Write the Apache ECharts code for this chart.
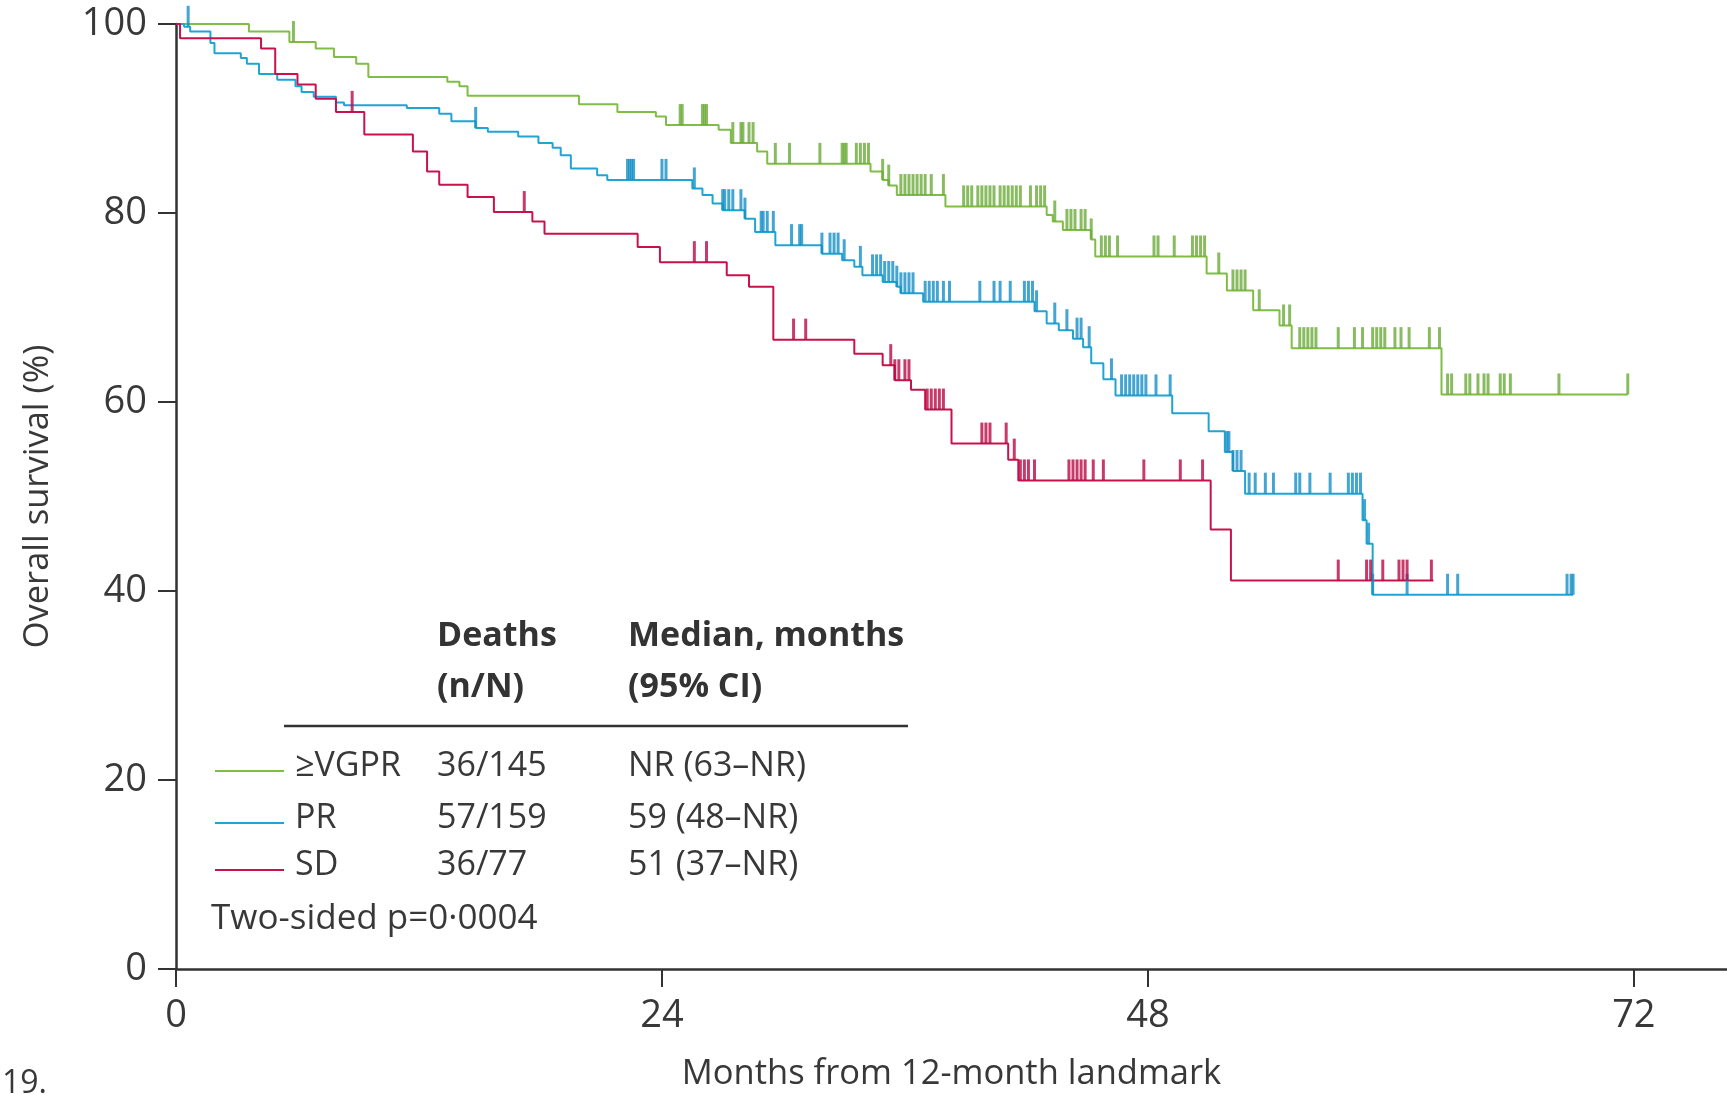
<!DOCTYPE html>
<html>
<head>
<meta charset="utf-8">
<script src="https://cdn.jsdelivr.net/npm/echarts@6/dist/echarts.min.js"></script>
<style>
  html, body { margin: 0; padding: 0; background: #ffffff; }
  #chart { width: 1727px; height: 1094px; }
</style>
</head>
<body>
<div id="chart"></div>
<script>
// Groups and summary table
const groups = ['≥VGPR', 'PR', 'SD'];
const deaths = ['36/145', '57/159', '36/77'];
const medians = ['NR (63–NR)', '59 (48–NR)', '51 (37–NR)'];
const pValueText = 'Two-sided p=0·0004';
const xTicks = [0, 24, 48, 72];

// Kaplan–Meier steps: [month, survival % after the drop]
const vgprSteps = [
  [0, 100], [3.6, 99.2], [5.6, 98.1], [6.9, 97.4], [7.8, 96.5], [8.9, 95.8], [9.5, 94.4],
  [13.4, 93.9], [14.0, 93.4], [14.4, 92.4], [19.9, 91.5], [21.8, 90.7], [23.7, 90.2],
  [24.2, 89.3], [26.8, 88.8], [27.4, 87.4], [28.7, 86.5], [29.2, 85.2], [34.3, 84.4],
  [34.9, 83.5], [35.2, 82.9], [35.6, 81.9], [38.0, 80.7], [43.0, 79.8], [43.3, 79.1],
  [43.8, 78.2], [45.2, 77.2], [45.4, 75.4], [50.9, 73.6], [51.9, 71.8], [53.2, 69.7],
  [54.5, 68.1], [55.1, 65.7], [62.5, 60.8], [71.7, 60.8]
];
const prSteps = [
  [0, 100], [0.4, 99.7], [0.7, 99.2], [1.7, 98.0], [1.9, 96.9], [3.2, 96.4], [3.5, 95.8],
  [4.1, 94.7], [5.0, 94.1], [5.9, 93.4], [6.2, 92.8], [6.8, 92.3], [7.9, 91.7], [8.3, 91.4],
  [11.4, 91.1], [13.0, 90.5], [13.6, 89.7], [14.8, 89.0], [15.4, 88.6], [16.9, 88.1],
  [17.9, 87.4], [18.6, 86.9], [19.0, 86.1], [19.5, 84.7], [20.8, 84.0], [21.3, 83.5],
  [25.5, 82.6], [26.0, 81.9], [26.5, 81.0], [27.0, 80.3], [28.1, 79.4], [28.6, 78.0],
  [29.6, 76.6], [31.9, 75.7], [32.9, 75.0], [33.5, 74.3], [33.9, 73.4], [34.9, 72.7],
  [35.6, 72.2], [35.8, 71.5], [36.9, 70.6], [42.4, 69.6], [43.0, 68.3], [43.6, 67.6],
  [44.3, 66.7], [44.8, 65.8], [45.2, 64.1], [45.8, 62.4], [46.4, 60.7], [49.2, 58.8],
  [51.0, 56.9], [51.8, 54.7], [52.2, 52.7], [52.8, 50.3], [58.6, 47.5], [58.8, 45.0],
  [59.1, 39.6], [69.0, 39.6]
];
const sdSteps = [
  [0, 100], [0.2, 98.5], [4.2, 97.4], [4.9, 94.7], [6.0, 93.6], [6.9, 92.1], [7.9, 90.7],
  [9.3, 88.3], [11.7, 86.5], [12.4, 84.4], [13.0, 83.0], [14.4, 81.7], [15.7, 80.1],
  [17.6, 79.1], [18.2, 77.8], [22.8, 76.4], [23.9, 74.8], [27.2, 73.4], [28.3, 72.2],
  [29.5, 66.6], [33.5, 65.1], [34.9, 63.9], [35.5, 62.3], [36.3, 61.3], [37.0, 59.2],
  [38.3, 55.6], [41.1, 53.9], [41.6, 51.7], [51.1, 46.5], [52.1, 41.1], [62.1, 41.1]
];

// Censoring times (months)
const vgprCensored = [
  5.8, 24.9, 25.0, 26.0, 26.1, 26.2, 27.5, 27.9, 28.0, 28.3, 28.5, 29.6, 30.3, 31.8, 32.9,
  33.0, 33.1, 33.6, 33.8, 34.0, 34.2, 34.9, 35.2, 35.8, 36.0, 36.2, 36.4, 36.6, 36.8, 37.0,
  37.3, 37.9, 38.9, 39.1, 39.3, 39.6, 39.8, 40.0, 40.2, 40.4, 40.7, 40.9, 41.1, 41.3, 41.5,
  41.7, 42.2, 42.5, 42.7, 42.9, 43.4, 44.0, 44.2, 44.4, 44.7, 44.9, 45.2, 45.7, 45.9, 46.1,
  46.5, 48.3, 48.5, 49.3, 50.2, 50.4, 50.6, 50.8, 51.5, 52.2, 52.4, 52.6, 52.8, 53.5, 54.7,
  55.0, 55.5, 55.7, 55.9, 56.1, 56.3, 57.4, 58.2, 58.6, 59.1, 59.3, 59.5, 59.7, 60.2, 60.5,
  60.9, 61.9, 62.4, 62.8, 63.0, 63.7, 63.9, 64.3, 64.6, 64.8, 65.4, 65.6, 65.9, 68.3, 71.7
];
const prCensored = [
  0.6, 14.8, 22.3, 22.4, 22.5, 22.6, 24.0, 24.2, 25.6, 27.0, 27.1, 27.3, 27.5, 27.9, 28.1,
  28.9, 29.0, 29.2, 29.5, 30.4, 30.8, 30.9, 31.9, 32.3, 32.5, 32.7, 33.0, 33.8, 34.4, 34.6,
  34.8, 35.0, 35.2, 35.4, 35.6, 35.8, 36.0, 36.2, 36.4, 37.0, 37.2, 37.4, 37.6, 37.9, 38.2,
  39.7, 40.4, 40.7, 41.2, 41.9, 42.1, 42.3, 42.5, 43.4, 44.0, 44.5, 44.7, 45.1, 46.2, 46.7,
  46.9, 47.1, 47.3, 47.5, 47.7, 47.9, 48.4, 49.1, 51.9, 52.0, 52.2, 52.4, 52.6, 53.0, 53.3,
  53.8, 54.2, 55.3, 55.5, 56.0, 57.0, 57.9, 58.1, 58.3, 58.5, 58.7, 58.9, 59.1, 60.8, 62.8,
  63.3, 68.7, 68.9, 69.0
];
const sdCensored = [
  8.7, 17.2, 25.6, 26.2, 30.5, 31.1, 35.3, 35.5, 35.7, 36.0, 36.2, 37.1, 37.3, 37.5, 37.7,
  37.9, 39.8, 40.0, 40.2, 41.0, 41.4, 41.7, 41.9, 42.1, 42.4, 44.1, 44.3, 44.5, 44.7, 44.9,
  45.3, 45.8, 47.8, 49.6, 50.7, 57.4, 58.8, 59.0, 59.6, 60.4, 60.6, 60.8, 62.0
];

const colors = ['#80bd45', '#1fa5d4', '#c8124c'];
const tickColors = ['#6cab3a', '#1590c4', '#b80a45'];
const stepSets = [vgprSteps, prSteps, sdSteps];
const censorSets = [vgprCensored, prCensored, sdCensored];

// Survival level of a step curve at a given time
function survivalAt(steps, t) {
  let v = steps[0][1];
  for (const [s, val] of steps) {
    if (s <= t) v = val; else break;
  }
  return v;
}

const FONT = '"Open Sans", "Noto Sans", sans-serif';
const TEXT = '#383838';
const AXIS = '#333333';

const series = [];
groups.forEach((g, i) => {
  series.push({
    name: g,
    type: 'line',
    step: 'end',
    symbol: 'none',
    data: stepSets[i],
    lineStyle: { color: colors[i], width: 2 },
    z: 3
  });
  series.push({
    name: g + ' censored',
    type: 'scatter',
    symbol: 'rect',
    symbolSize: [3, 21],
    symbolOffset: [0, '-50%'],
    data: censorSets[i].map(t => [t, survivalAt(stepSets[i], t)]),
    itemStyle: { color: tickColors[i] },
    z: 4
  });
});

// Summary table drawn beside the curves
const colDeaths = 437, colMedian = 628, colLabel = 295;
const rowY = [771, 823, 870];
const graphic = [
  { type: 'text', left: colDeaths, top: 619, style: { text: 'Deaths', font: 'bold 34px ' + FONT, fill: '#333' } },
  { type: 'text', left: colDeaths, top: 670, style: { text: '(n/N)', font: 'bold 34px ' + FONT, fill: '#333' } },
  { type: 'text', left: colMedian, top: 619, style: { text: 'Median, months', font: 'bold 34px ' + FONT, fill: '#333' } },
  { type: 'text', left: colMedian, top: 670, style: { text: '(95% CI)', font: 'bold 34px ' + FONT, fill: '#333' } },
  { type: 'line', shape: { x1: 284, y1: 726, x2: 908, y2: 726 }, style: { stroke: '#333', lineWidth: 2.5 } },
  { type: 'text', left: 211, top: 902, style: { text: pValueText, font: '35px ' + FONT, fill: TEXT } },
  { type: 'text', left: 2, top: 1068, style: { text: '19.', font: '32px ' + FONT, fill: TEXT } }
];
groups.forEach((g, i) => {
  graphic.push({ type: 'line', shape: { x1: 215, y1: rowY[i], x2: 284, y2: rowY[i] }, style: { stroke: colors[i], lineWidth: 2 } });
  graphic.push({ type: 'text', left: colLabel, top: rowY[i] - 22, style: { text: g, font: '34px ' + FONT, fill: TEXT } });
  graphic.push({ type: 'text', left: colDeaths, top: rowY[i] - 22, style: { text: deaths[i], font: '34px ' + FONT, fill: TEXT } });
  graphic.push({ type: 'text', left: colMedian, top: rowY[i] - 22, style: { text: medians[i], font: '34px ' + FONT, fill: TEXT } });
});

const chart = echarts.init(document.getElementById('chart'), null, { renderer: 'canvas' });
chart.setOption({
  animation: false,
  backgroundColor: '#ffffff',
  grid: { left: 176, right: 0, top: 24, bottom: 125, containLabel: false, outerBoundsMode: 'none' },
  xAxis: {
    type: 'value',
    min: 0,
    max: 76.6,
    interval: 24,
    name: 'Months from 12-month landmark',
    nameLocation: 'middle',
    nameGap: 88,
    nameTextStyle: { fontFamily: FONT, fontSize: 34.5, color: TEXT },
    axisLine: { show: true, lineStyle: { color: AXIS, width: 2.5 } },
    axisTick: { show: true, length: 18, customValues: xTicks, lineStyle: { color: AXIS, width: 2 } },
    axisLabel: {
      customValues: xTicks,
      margin: 28,
      fontFamily: FONT, fontSize: 38, color: TEXT,
      formatter: v => (xTicks.indexOf(v) >= 0 ? String(v) : '')
    },
    splitLine: { show: false }
  },
  yAxis: {
    type: 'value',
    min: 0,
    max: 100,
    interval: 20,
    name: 'Overall survival (%)',
    nameLocation: 'middle',
    nameRotate: 90,
    nameGap: 120,
    nameTextStyle: { fontFamily: FONT, fontSize: 34.5, color: TEXT },
    axisLine: { show: true, lineStyle: { color: AXIS, width: 2.5 } },
    axisTick: { show: true, length: 18, lineStyle: { color: AXIS, width: 2 } },
    axisLabel: { margin: 29, fontFamily: FONT, fontSize: 38, color: TEXT },
    splitLine: { show: false }
  },
  series: series,
  graphic: graphic
});
</script>
</body>
</html>
